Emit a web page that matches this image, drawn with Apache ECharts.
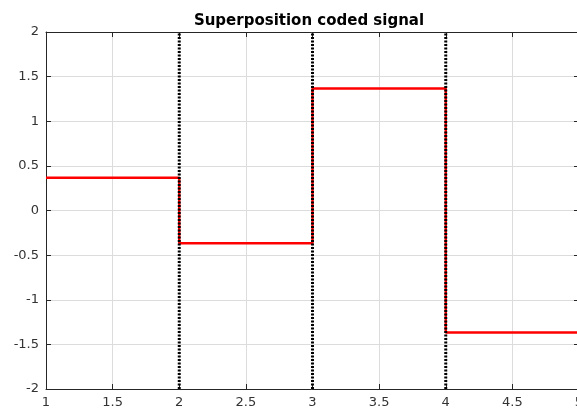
<!DOCTYPE html>
<html><head><meta charset="utf-8">
<script src="https://cdn.jsdelivr.net/npm/echarts@6/dist/echarts.min.js"></script>
<style>html,body{margin:0;padding:0;background:#fff;overflow:hidden}#c{width:577px;height:410px}</style>
</head><body><div id="c"></div>
<script>
const titleText = 'Superposition coded signal';
const stepX = [1, 2, 3, 4, 5];
const stepY = [0.366, -0.366, 1.366, -1.366, -1.366];
const boundaryX = [2, 3, 4];
const yRange = [-2, 2];
const xTicks = [1, 1.5, 2, 2.5, 3, 3.5, 4, 4.5, 5];
const yTicks = [-2, -1.5, -1, -0.5, 0, 0.5, 1, 1.5, 2];

const font = 'DejaVu Sans, Liberation Sans, Arial, sans-serif';
const axColor = '#262626';
const chart = echarts.init(document.getElementById('c'), null, {renderer: 'canvas'});
const baseAxis = {
  type: 'value',
  axisLine: {show: true, onZero: false, lineStyle: {color: axColor, width: 1}},
  axisTick: {show: true, inside: true, length: 5, lineStyle: {color: axColor}},
  splitLine: {show: true, lineStyle: {color: '#dcdcdc', width: 1}},
  axisLabel: {color: '#333333', fontFamily: font, fontSize: 13}
};
const series = [{
  type: 'line', step: 'end', symbol: 'none',
  data: stepX.map((x, i) => [x, stepY[i]]),
  lineStyle: {color: '#ff0000', width: 2.5}, z: 3
}];
boundaryX.forEach(bx => series.push({
  type: 'line', symbol: 'none',
  data: [[bx, yRange[0]], [bx, yRange[1]]],
  lineStyle: {color: '#000', width: 3, type: [2, 1.5]}, z: 4
}));
chart.setOption({
  animation: false,
  title: {text: titleText, left: 304, top: 9, textAlign: 'center',
    textStyle: {fontFamily: font, fontSize: 15, fontWeight: 'bold', color: '#000'}},
  grid: {left: 46, width: 533, top: 32, height: 357, containLabel: false, outerBoundsMode: 'none'},
  xAxis: [
    Object.assign({}, baseAxis, {min: 1, max: 5, interval: 0.5, position: 'bottom',
      axisLabel: Object.assign({}, baseAxis.axisLabel, {margin: 7,
        formatter: v => xTicks.includes(v) ? String(v) : ''})}),
    Object.assign({}, baseAxis, {min: 1, max: 5, interval: 0.5, position: 'top',
      axisLabel: {show: false}, splitLine: {show: false}})
  ],
  yAxis: [
    Object.assign({}, baseAxis, {min: -2, max: 2, interval: 0.5, position: 'left',
      axisLabel: Object.assign({}, baseAxis.axisLabel, {margin: 7,
        formatter: v => yTicks.includes(v) ? String(v) : ''})}),
    Object.assign({}, baseAxis, {min: -2, max: 2, interval: 0.5, position: 'right',
      axisLabel: {show: false}, splitLine: {show: false}})
  ],
  series: series
});
</script></body></html>
